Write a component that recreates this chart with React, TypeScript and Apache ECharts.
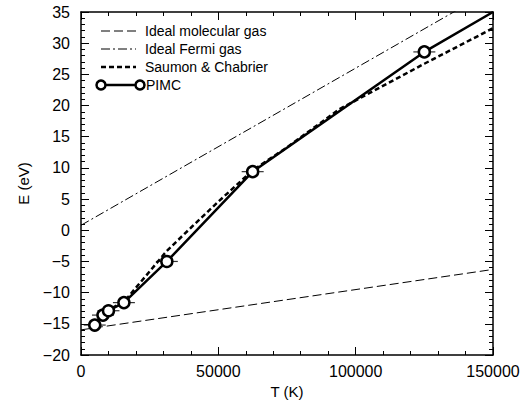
import React, { useEffect, useRef } from "react";
import * as echarts from "echarts";

// Data
const pimcT = [5000, 8000, 10000, 15625, 31250, 62500, 125000];
const pimcE = [-15.2, -13.6, -12.9, -11.6, -5.0, 9.4, 28.6];
const pimcTailT = [150000];
const pimcTailE = [35.0];
const scT = [5000, 10000, 16000, 20000, 25000, 31250, 40000, 50000, 62500, 75000, 94000, 125000, 150000];
const scE = [-15.1, -12.8, -11.3, -9.2, -6.6, -3.3, 0.4, 4.6, 9.6, 13.3, 19.4, 26.7, 32.4];
const molT = [0, 150000];
const molE = [-15.97, -6.28];
const fermiT = [0, 150000];
const fermiE = [0.8, 38.6];
const legendNames = ["Ideal molecular gas", "Ideal Fermi gas", "Saumon & Chabrier", "PIMC"];

const FONT = "Liberation Sans, Arial, Helvetica, sans-serif";

export default function App() {
  const ref = useRef<HTMLDivElement>(null);
  useEffect(() => {
    if (!ref.current) return;
    const chart = echarts.init(ref.current, undefined, { renderer: "svg" });
    const zip = (a: number[], b: number[]) => a.map((v, i) => [v, b[i]]);
    const axisCommon = {
      axisLine: { show: true, onZero: false, lineStyle: { color: "#000", width: 1.5 } },
      axisTick: { show: true, inside: true, length: 8, lineStyle: { color: "#000", width: 1 } },
      minorTick: { show: true, splitNumber: 5, length: 4, lineStyle: { color: "#000", width: 1 } },
      splitLine: { show: false },
    };
    const legendRowsY = [31, 49, 67, 85];
    const lx0 = 101, lx1 = 136, tx = 145;
    const graphics: any[] = [
      { type: "line", shape: { x1: lx0, y1: legendRowsY[0], x2: lx1, y2: legendRowsY[0] }, style: { stroke: "#000", lineWidth: 1, lineDash: [9, 4] } },
      { type: "line", shape: { x1: lx0, y1: legendRowsY[1], x2: lx1, y2: legendRowsY[1] }, style: { stroke: "#000", lineWidth: 1, lineDash: [9, 3, 2, 3] } },
      { type: "line", shape: { x1: lx0, y1: legendRowsY[2], x2: lx1, y2: legendRowsY[2] }, style: { stroke: "#000", lineWidth: 2.5, lineDash: [5, 3] } },
      { type: "line", shape: { x1: lx0, y1: legendRowsY[3], x2: lx1 + 4, y2: legendRowsY[3] }, style: { stroke: "#000", lineWidth: 2.5 } },
      { type: "circle", shape: { cx: lx0, cy: legendRowsY[3], r: 4.5 }, style: { fill: "#fff", stroke: "#000", lineWidth: 2.5 } },
      { type: "circle", shape: { cx: lx1 + 4, cy: legendRowsY[3], r: 4.5 }, style: { fill: "#fff", stroke: "#000", lineWidth: 2.5 } },
    ];
    legendNames.forEach((n, i) => {
      graphics.push({
        type: "text",
        x: i === 3 ? tx + 1 : tx,
        y: legendRowsY[i],
        style: { text: n, fill: "#000", font: `14px ${FONT}`, verticalAlign: "middle" },
      });
    });
    chart.setOption({
      animation: false,
      backgroundColor: "#fff",
      grid: { left: 81, right: 30, top: 12, bottom: 56 },
      xAxis: [
        {
          type: "value", min: 0, max: 150000, interval: 50000, position: "bottom",
          name: "T (K)", nameLocation: "middle", nameGap: 26,
          nameTextStyle: { color: "#000", fontSize: 15, fontFamily: FONT },
          axisLabel: { color: "#000", fontSize: 16, fontFamily: FONT, margin: 8, formatter: (v: number) => String(v) },
          ...axisCommon,
        },
        {
          type: "value", min: 0, max: 150000, interval: 50000, position: "top",
          axisLabel: { show: false },
          ...axisCommon,
        },
      ],
      yAxis: [
        {
          type: "value", min: -20, max: 35, interval: 5, position: "left",
          name: "E (eV)", nameLocation: "middle", nameGap: 50,
          nameTextStyle: { color: "#000", fontSize: 15, fontFamily: FONT },
          axisLabel: {
            color: "#000", fontSize: 16, fontFamily: FONT, margin: 11,
            formatter: (v: number) => String(v).replace("-", "\u2212"),
          },
          ...axisCommon,
        },
        {
          type: "value", min: -20, max: 35, interval: 5, position: "right",
          axisLabel: { show: false },
          ...axisCommon,
        },
      ],
      series: [
        {
          name: legendNames[0], type: "line", data: zip(molT, molE), showSymbol: false, symbol: "none",
          lineStyle: { color: "#000", width: 1, type: [9, 4] }, clip: true, z: 2,
        },
        {
          name: legendNames[1], type: "line", data: zip(fermiT, fermiE), showSymbol: false, symbol: "none",
          lineStyle: { color: "#000", width: 1, type: [9, 3, 2, 3] }, clip: true, z: 2,
        },
        {
          name: legendNames[2], type: "line", data: zip(scT, scE), showSymbol: false, symbol: "none",
          lineStyle: { color: "#000", width: 2.5, type: [5, 3] }, clip: true, z: 3,
        },
        {
          name: "PIMC caps", type: "scatter", data: zip(pimcT, pimcE), symbol: "rect", symbolSize: [22, 1.2],
          itemStyle: { color: "#000" }, z: 4, silent: true,
        },
        {
          name: legendNames[3], type: "line",
          data: [
            ...zip(pimcT, pimcE),
            ...zip(pimcTailT, pimcTailE).map((p) => ({ value: p, symbol: "none" })),
          ],
          symbol: "circle", symbolSize: 11, showSymbol: true,
          itemStyle: { color: "#fff", borderColor: "#000", borderWidth: 2.5 },
          lineStyle: { color: "#000", width: 2.5 }, clip: true, z: 5,
        },
      ],
      graphic: graphics,
    });
    return () => chart.dispose();
  }, []);
  return <div ref={ref} style={{ width: 523, height: 411, position: "absolute", left: 0, top: 0 }} />;
}
